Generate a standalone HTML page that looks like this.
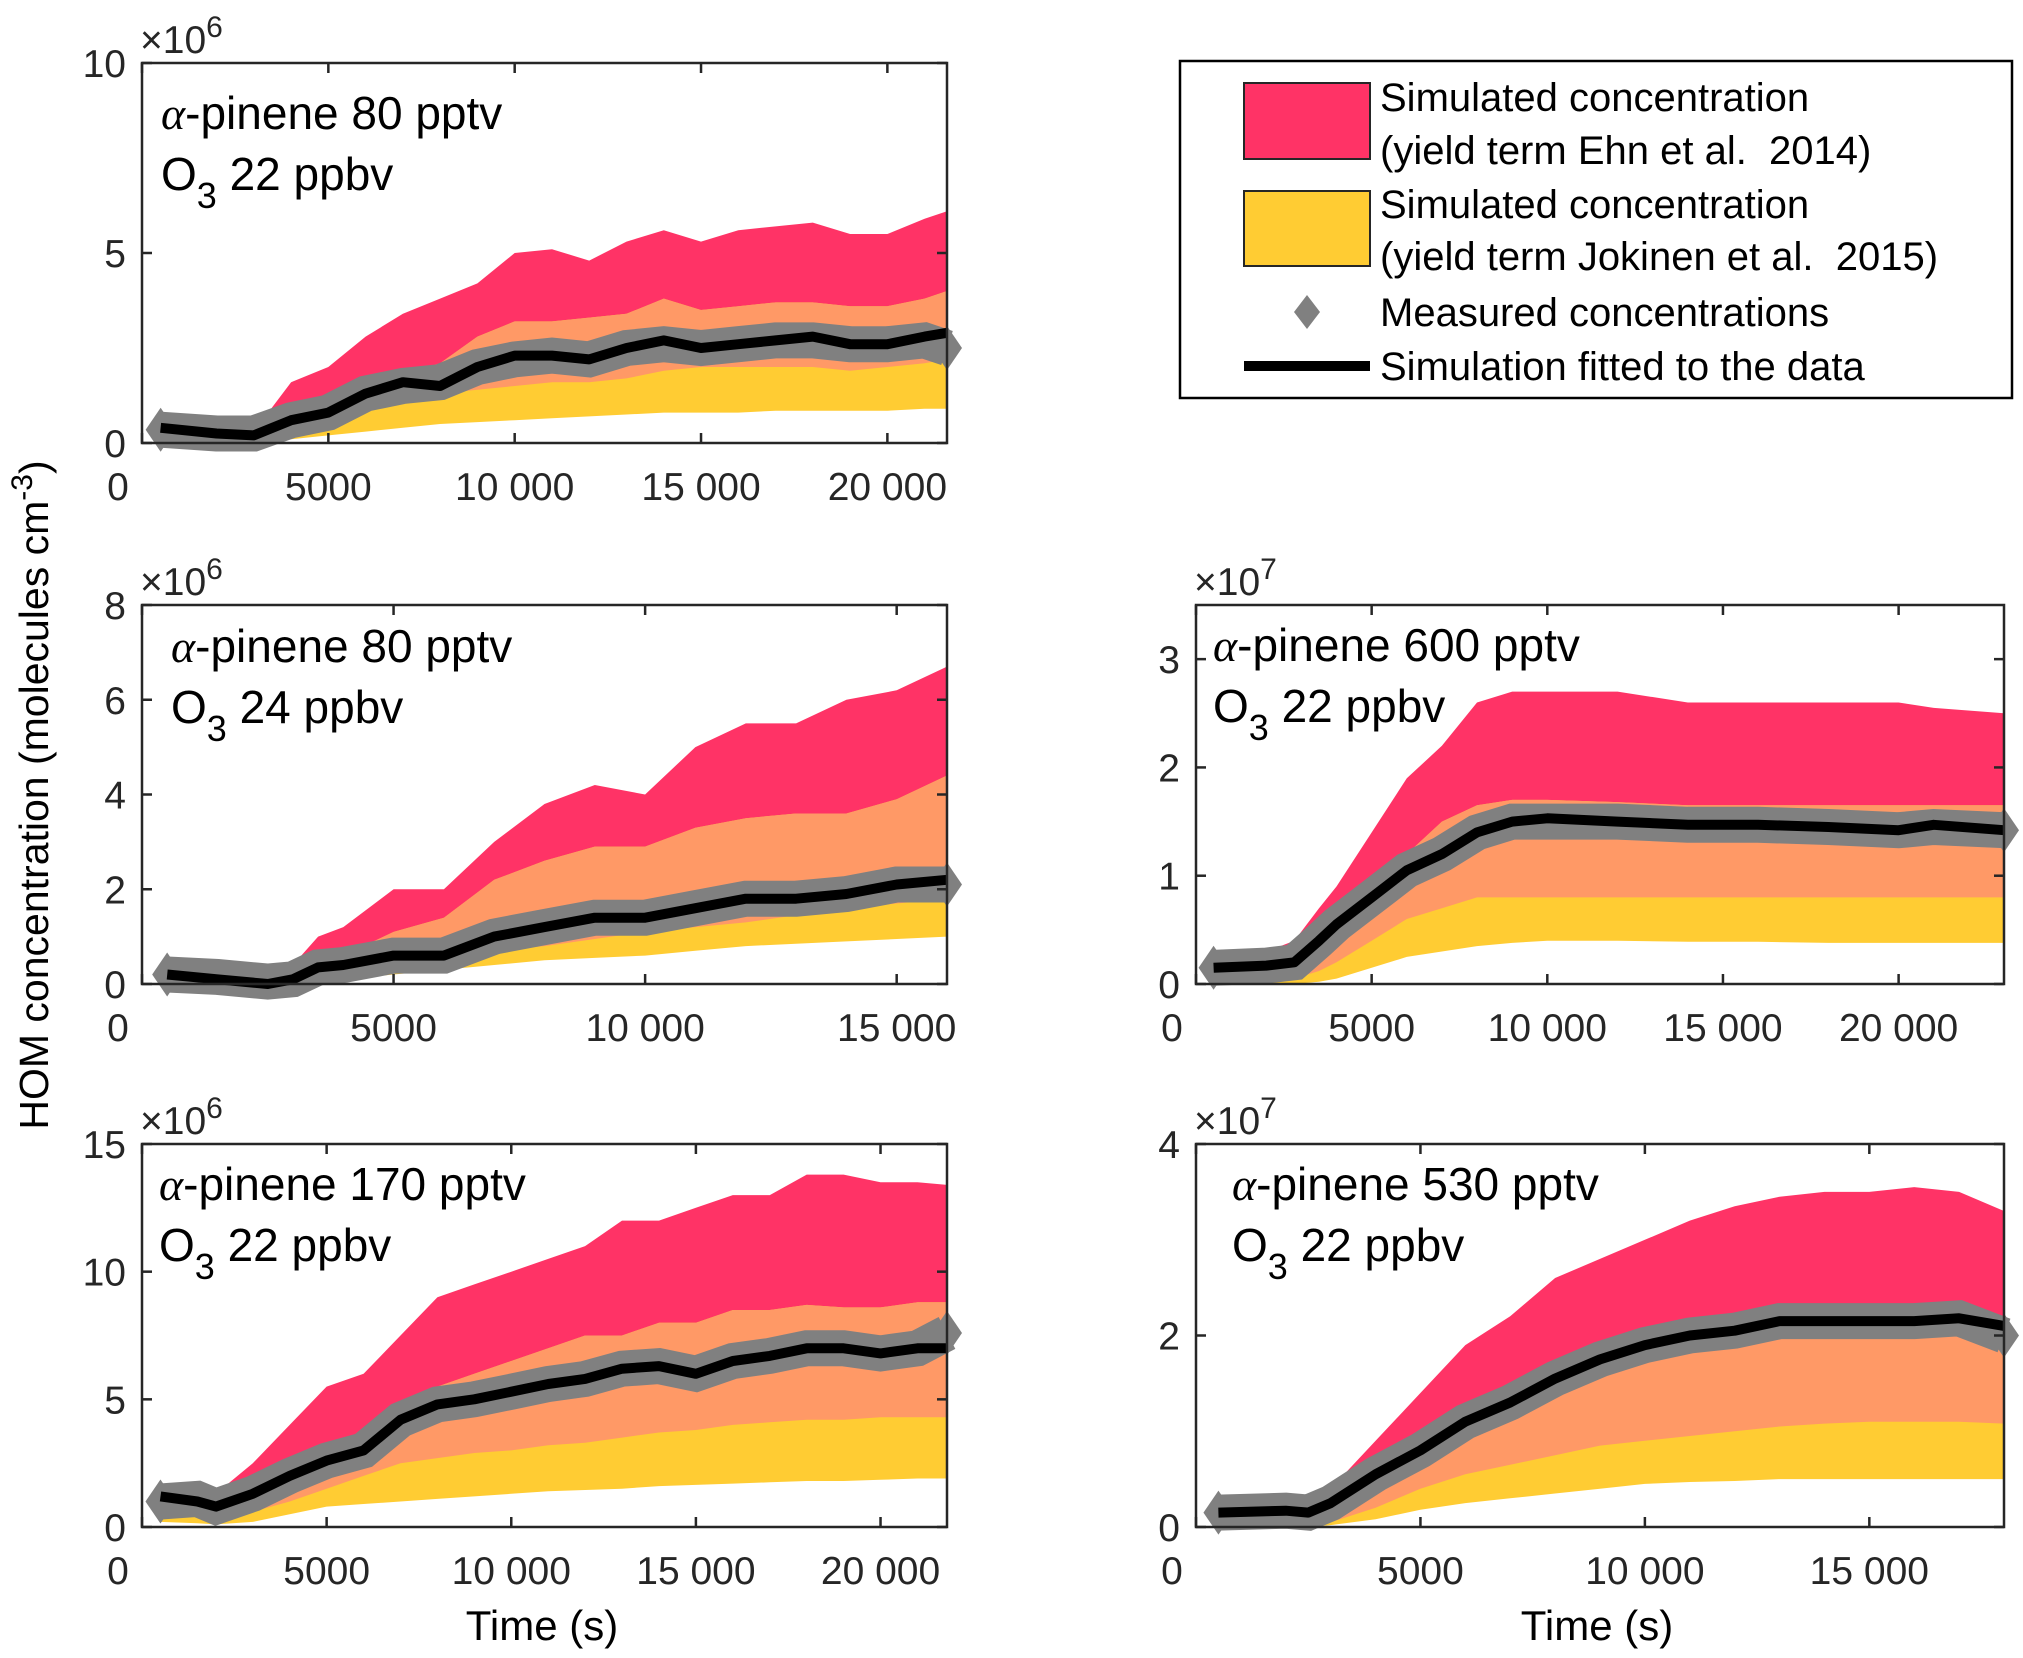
<!DOCTYPE html>
<html><head><meta charset="utf-8"><style>
html,body{margin:0;padding:0;background:#fff;}
svg{display:block;font-family:"Liberation Sans",Arial,sans-serif;}
</style></head><body>
<svg id="chart" width="2023" height="1658" viewBox="0 0 2023 1658" xmlns="http://www.w3.org/2000/svg"></svg>
<script>
// ---------- data (values in units of the panel exponent) ----------
const p1Time  = [500,2000,3000,4000,5000,6000,7000,8000,9000,10000,11000,12000,13000,14000,15000,16000,17000,18000,19000,20000,21000,21600];
const p1RedHi = [0.3,0.25,0.3,1.6,2.0,2.8,3.4,3.8,4.2,5.0,5.1,4.8,5.3,5.6,5.3,5.6,5.7,5.8,5.5,5.5,5.9,6.1];
const p1YelHi = [0.2,0.15,0.2,0.5,1.0,1.4,1.8,2.1,2.8,3.2,3.2,3.3,3.4,3.8,3.5,3.6,3.7,3.7,3.6,3.6,3.8,4.0];
const p1RedLo = [0.1,0.1,0.1,0.3,0.6,0.8,1.2,1.3,1.4,1.5,1.6,1.6,1.7,1.9,2.0,2.0,2.0,2.0,1.9,2.0,2.1,2.2];
const p1YelLo = [0.05,0.05,0.05,0.1,0.2,0.3,0.4,0.5,0.55,0.6,0.65,0.7,0.75,0.8,0.8,0.8,0.85,0.85,0.85,0.85,0.9,0.9];
const p1Meas  = [0.35,0.25,0.25,0.6,0.8,1.3,1.5,1.6,2.0,2.2,2.3,2.2,2.5,2.6,2.5,2.6,2.7,2.7,2.6,2.6,2.7,2.5];
const p1Fit   = [0.4,0.25,0.2,0.6,0.8,1.3,1.6,1.5,2.0,2.3,2.3,2.2,2.5,2.7,2.5,2.6,2.7,2.8,2.6,2.6,2.8,2.9];

const p2Time  = [500,1500,2500,3000,3500,4000,5000,6000,7000,8000,9000,10000,11000,12000,13000,14000,15000,16000];
const p2RedHi = [0.35,0.4,0.3,0.4,1.0,1.2,2.0,2.0,3.0,3.8,4.2,4.0,5.0,5.5,5.5,6.0,6.2,6.7];
const p2YelHi = [0.25,0.25,0.1,0.2,0.4,0.6,1.1,1.4,2.2,2.6,2.9,2.9,3.3,3.5,3.6,3.6,3.9,4.4];
const p2RedLo = [0.1,0.1,0.05,0.1,0.2,0.3,0.4,0.6,0.7,0.8,0.95,1.1,1.2,1.3,1.45,1.6,1.7,1.8];
const p2YelLo = [0.05,0.05,0.0,0.0,0.05,0.1,0.2,0.3,0.4,0.5,0.55,0.6,0.7,0.8,0.85,0.9,0.95,1.0];
const p2Meas  = [0.2,0.15,0.05,0.1,0.35,0.4,0.6,0.6,1.0,1.2,1.4,1.4,1.6,1.8,1.8,1.9,2.1,2.1];
const p2Fit   = [0.2,0.1,0.0,0.1,0.35,0.4,0.6,0.6,1.0,1.2,1.4,1.4,1.6,1.8,1.8,1.9,2.1,2.2];

const p3Time  = [500,2000,2800,3500,4000,5000,6000,7000,8000,9000,10000,12000,14000,16000,18000,20000,21000,23000];
const p3RedHi = [0.25,0.3,0.4,0.7,0.9,1.4,1.9,2.2,2.6,2.7,2.7,2.7,2.6,2.6,2.6,2.6,2.55,2.5];
const p3YelHi = [0.18,0.2,0.22,0.35,0.5,0.9,1.2,1.5,1.65,1.7,1.7,1.68,1.65,1.65,1.65,1.65,1.65,1.65];
const p3RedLo = [0.02,0.02,0.05,0.12,0.2,0.4,0.6,0.7,0.8,0.8,0.8,0.8,0.8,0.8,0.8,0.8,0.8,0.8];
const p3YelLo = [0.0,0.0,0.0,0.02,0.05,0.15,0.25,0.3,0.35,0.38,0.4,0.4,0.39,0.39,0.38,0.38,0.38,0.38];
const p3Meas  = [0.15,0.17,0.2,0.4,0.55,0.8,1.05,1.2,1.4,1.5,1.5,1.5,1.47,1.47,1.45,1.42,1.45,1.42];
const p3Fit   = [0.15,0.17,0.2,0.4,0.55,0.8,1.05,1.2,1.4,1.5,1.53,1.5,1.47,1.47,1.45,1.42,1.47,1.42];

const p4Time  = [500,1500,2000,3000,4000,5000,6000,7000,8000,9000,10000,11000,12000,13000,14000,15000,16000,17000,18000,19000,20000,21000,21800];
const p4RedHi = [1.5,1.5,1.3,2.5,4.0,5.5,6.0,7.5,9.0,9.5,10.0,10.5,11.0,12.0,12.0,12.5,13.0,13.0,13.8,13.8,13.5,13.5,13.4];
const p4YelHi = [1.0,0.9,0.5,1.5,2.5,3.0,3.5,4.5,5.5,6.0,6.5,7.0,7.5,7.5,8.0,8.0,8.5,8.5,8.7,8.6,8.6,8.8,8.8];
const p4RedLo = [0.5,0.4,0.2,0.6,1.0,1.5,2.0,2.5,2.7,2.9,3.0,3.2,3.3,3.5,3.7,3.8,4.0,4.1,4.2,4.2,4.3,4.3,4.3];
const p4YelLo = [0.2,0.15,0.1,0.2,0.5,0.8,0.9,1.0,1.1,1.2,1.3,1.4,1.45,1.5,1.6,1.65,1.7,1.75,1.8,1.8,1.85,1.9,1.9];
const p4Meas  = [1.0,1.1,0.8,1.3,2.0,2.6,3.0,4.2,4.8,5.0,5.3,5.6,5.8,6.2,6.3,6.0,6.5,6.7,7.0,7.0,6.8,7.0,7.6];
const p4Fit   = [1.2,1.0,0.8,1.3,2.0,2.6,3.0,4.2,4.8,5.0,5.3,5.6,5.8,6.2,6.3,6.0,6.5,6.7,7.0,7.0,6.8,7.0,7.0];

const p5Time  = [500,2000,2500,3000,4000,5000,6000,7000,8000,9000,10000,11000,12000,13000,14000,15000,16000,17000,18000];
const p5RedHi = [0.2,0.3,0.3,0.4,0.9,1.4,1.9,2.2,2.6,2.8,3.0,3.2,3.35,3.45,3.5,3.5,3.55,3.5,3.3];
const p5YelHi = [0.15,0.2,0.2,0.2,0.55,0.9,1.2,1.5,1.7,1.85,2.0,2.08,2.15,2.2,2.25,2.25,2.25,2.25,2.2];
const p5RedLo = [0.02,0.02,0.02,0.05,0.2,0.4,0.55,0.65,0.75,0.85,0.9,0.95,1.0,1.05,1.08,1.1,1.1,1.1,1.08];
const p5YelLo = [0.0,0.0,0.0,0.02,0.08,0.18,0.25,0.3,0.35,0.4,0.45,0.47,0.48,0.5,0.5,0.5,0.5,0.5,0.5];
const p5Meas  = [0.15,0.17,0.15,0.25,0.55,0.8,1.1,1.3,1.55,1.75,1.9,2.0,2.05,2.15,2.15,2.15,2.15,2.18,2.0];
const p5Fit   = [0.15,0.17,0.15,0.25,0.55,0.8,1.1,1.3,1.55,1.75,1.9,2.0,2.05,2.15,2.15,2.15,2.15,2.18,2.1];

const p1XTicks=[0,5000,10000,15000,20000], p1YTicks=[0,5,10];
const p2XTicks=[0,5000,10000,15000], p2YTicks=[0,2,4,6,8];
const p3XTicks=[0,5000,10000,15000,20000], p3YTicks=[0,1,2,3];
const p4XTicks=[0,5000,10000,15000,20000], p4YTicks=[0,5,10,15];
const p5XTicks=[0,5000,10000,15000], p5YTicks=[0,2,4];

const panels=[
 {id:'p1',L:142,R:947,T:63,B:443,xmax:21600,ymax:10,exp:'6',xt:p1XTicks,yt:p1YTicks,t:p1Time,rh:p1RedHi,yh:p1YelHi,rl:p1RedLo,yl:p1YelLo,m:p1Meas,f:p1Fit,l1:'80',l2:'22',ax:161,ay:129},
 {id:'p2',L:142,R:947,T:605,B:984,xmax:16000,ymax:8,exp:'6',xt:p2XTicks,yt:p2YTicks,t:p2Time,rh:p2RedHi,yh:p2YelHi,rl:p2RedLo,yl:p2YelLo,m:p2Meas,f:p2Fit,l1:'80',l2:'24',ax:171,ay:662},
 {id:'p3',L:1196,R:2004,T:605,B:984,xmax:23000,ymax:3.5,exp:'7',xt:p3XTicks,yt:p3YTicks,t:p3Time,rh:p3RedHi,yh:p3YelHi,rl:p3RedLo,yl:p3YelLo,m:p3Meas,f:p3Fit,l1:'600',l2:'22',ax:1213,ay:661},
 {id:'p4',L:142,R:947,T:1144,B:1527,xmax:21800,ymax:15,exp:'6',xt:p4XTicks,yt:p4YTicks,t:p4Time,rh:p4RedHi,yh:p4YelHi,rl:p4RedLo,yl:p4YelLo,m:p4Meas,f:p4Fit,l1:'170',l2:'22',ax:159,ay:1200},
 {id:'p5',L:1196,R:2004,T:1144,B:1527,xmax:18000,ymax:4,exp:'7',xt:p5XTicks,yt:p5YTicks,t:p5Time,rh:p5RedHi,yh:p5YelHi,rl:p5RedLo,yl:p5YelLo,m:p5Meas,f:p5Fit,l1:'530',l2:'22',ax:1232,ay:1200}
];

const NS='http://www.w3.org/2000/svg';
const svg=document.getElementById('chart');
function mk(tag,attrs,parent){const e=document.createElementNS(NS,tag);for(const k in attrs)e.setAttribute(k,attrs[k]);(parent||svg).appendChild(e);return e;}
const AX='#262626', TXT='#262626';

panels.forEach(p=>{
  const xs=v=>p.L+(v/p.xmax)*(p.R-p.L);
  const ys=v=>p.B-(v/p.ymax)*(p.B-p.T);
  const g=mk('g',{});
  
  
  const cid='clip-'+p.id;
  const cp=mk('clipPath',{id:cid},g); mk('rect',{x:p.L,y:p.T-30,width:p.R-p.L,height:p.B-p.T+30},cp);
  const plot=mk('g',{'clip-path':'url(#'+cid+')'},g);
  function band(hi,lo,color,name){
    let d='';
    p.t.forEach((t,i)=>{d+=(i?'L':'M')+xs(t).toFixed(1)+' '+ys(hi[i]).toFixed(1);});
    for(let i=p.t.length-1;i>=0;i--) d+='L'+xs(p.t[i]).toFixed(1)+' '+ys(lo[i]).toFixed(1);
    const e=mk('path',{d:d+'Z',fill:color,stroke:'none'},plot);
    
    
  }
  band(p.rh,p.rl,'#FF3366','ehn-band');
  band(p.yh,p.yl,'#FFCC33','jokinen-band');
  const ovHi=p.yh.map((v,i)=>Math.min(v,p.rh[i])), ovLo=p.rl.map((v,i)=>Math.max(v,p.yl[i]));
  band(ovHi,ovLo.map((v,i)=>Math.min(v,ovHi[i])),'#FF9966','overlap-band');
  const pts=p.t.map((t,i)=>xs(t).toFixed(1)+','+ys(p.m[i]).toFixed(1)).join(' ');
  const mb=mk('polyline',{points:pts,fill:'none',stroke:'#808080','stroke-width':36,'stroke-linejoin':'miter'},g);
  
  
  [0,p.t.length-1].forEach(i=>{
    const cx=xs(p.t[i]),cy=ys(p.m[i]);
    const dm=mk('polygon',{points:`${cx-15},${cy} ${cx},${cy-22} ${cx+15},${cy} ${cx},${cy+22}`,fill:'#808080'},g);
    
    
  });
  const fp=p.t.map((t,i)=>xs(t).toFixed(1)+','+ys(p.f[i]).toFixed(1)).join(' ');
  const fl=mk('polyline',{points:fp,fill:'none',stroke:'#000','stroke-width':10,'stroke-linejoin':'round'},g);
  
  
  const bx=mk('rect',{x:p.L,y:p.T,width:p.R-p.L,height:p.B-p.T,fill:'none',stroke:AX,'stroke-width':2.5},g);
  
  
  p.xt.forEach((v,i)=>{
    const x=xs(v);
    mk('line',{x1:x,y1:p.B,x2:x,y2:p.B-10,stroke:AX,'stroke-width':2.5},g);
    mk('line',{x1:x,y1:p.T,x2:x,y2:p.T+10,stroke:AX,'stroke-width':2.5},g);
    const lab=String(v).replace(/(\d)(\d{3})$/,(m,a,b)=>v>=10000?a+' '+b:m);
    const tx=mk('text',{x:v===0?x-24:x,y:p.B+57,'text-anchor':'middle','font-size':39,fill:TXT},g);
    tx.textContent=lab;
    
    
  });
  p.yt.forEach(v=>{
    const y=ys(v);
    mk('line',{x1:p.L,y1:y,x2:p.L+10,y2:y,stroke:AX,'stroke-width':2.5},g);
    mk('line',{x1:p.R,y1:y,x2:p.R-10,y2:y,stroke:AX,'stroke-width':2.5},g);
    const ty=mk('text',{x:p.L-16,y:y+14,'text-anchor':'end','font-size':39,fill:TXT},g);
    ty.textContent=String(v);
    
    
  });
  const ex=mk('text',{x:p.L-2,y:p.T-10,'font-size':39,fill:TXT},g);
  ex.innerHTML='×10<tspan dy="-16" font-size="30">'+p.exp+'</tspan>';
  
  
  const a1=mk('text',{x:p.ax,y:p.ay,'font-size':46,fill:'#000'},g);
  a1.innerHTML='<tspan font-family="Liberation Serif" font-style="italic">α</tspan>-pinene '+p.l1+' pptv';
  
  
  const a2=mk('text',{x:p.ax,y:p.ay+61,'font-size':46,fill:'#000'},g);
  a2.innerHTML='O<tspan dy="18" font-size="36">3</tspan><tspan dy="-18"> '+p.l2+' ppbv</tspan>';
  
  
});

const yt=mk('text',{x:0,y:0,transform:'translate(48,795) rotate(-90)','text-anchor':'middle','font-size':41,fill:'#000'});
yt.innerHTML='HOM concentration (molecules cm<tspan dy="-16" font-size="30">-3</tspan><tspan dy="16">)</tspan>';


[[542,'x-axis-title-left'],[1597,'x-axis-title-right']].forEach(a=>{
  const t=mk('text',{x:a[0],y:1640,'text-anchor':'middle','font-size':42,fill:'#000'});
  t.textContent='Time (s)';
  
  
});

const lg=mk('g',{});


mk('rect',{x:1180,y:61,width:832,height:337,fill:'#fff',stroke:'#000','stroke-width':2.5},lg);
const sw1=mk('rect',{x:1244,y:83,width:126,height:76,fill:'#FF3366',stroke:'#262626','stroke-width':2},lg);


const sw2=mk('rect',{x:1244,y:191,width:126,height:75,fill:'#FFCC33',stroke:'#262626','stroke-width':2},lg);


const dmd=mk('polygon',{points:'1294,312 1307,295 1320,312 1307,329',fill:'#808080'},lg);


const ll=mk('line',{x1:1244,y1:366,x2:1370,y2:366,stroke:'#000','stroke-width':10},lg);


[['Simulated concentration',111],['(yield term Ehn et al.\u00a0 2014)',164],['Simulated concentration',218],['(yield term Jokinen et al.\u00a0 2015)',270],['Measured concentrations',326],['Simulation fitted to the data',380]].forEach(r=>{
  const t=mk('text',{x:1380,y:r[1],'font-size':40,fill:'#000'},lg);
  t.textContent=r[0];
  
  
});
</script>
</body></html>
